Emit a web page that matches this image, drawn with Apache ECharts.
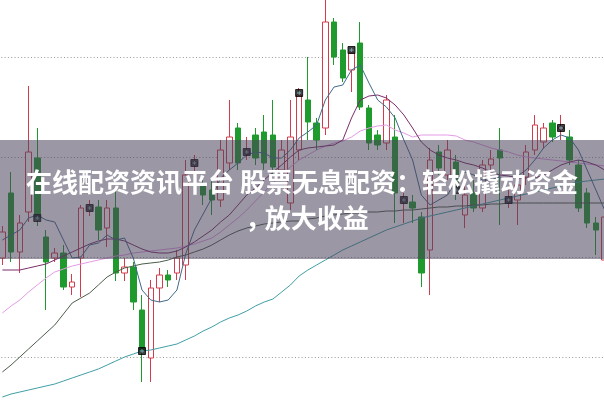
<!DOCTYPE html>
<html><head><meta charset="utf-8">
<script src="https://cdn.jsdelivr.net/npm/echarts@6/dist/echarts.min.js"></script>
<style>html,body{margin:0;padding:0;background:#fff}#c{width:604px;height:401px}</style>
</head><body><div id="c"></div>
<script>
const categories = Array.from({length: 70}, (_, i) => 'D' + (i + 1));
const openP  = [10.99,11.64,11.05,11.45,11.99,11.20,10.99,11.04,10.70,10.99, 11.48,11.50,11.29,11.49,10.84,10.90,10.47,9.99,10.69,10.82, 10.84,10.92,11.93,11.72,11.67,11.57,11.94,12.29,12.04,12.22, 12.25,12.22,11.87,11.54,12.07,12.57,12.34,12.29,13.35,13.07, 12.87,13.14,12.49,12.22,12.14,12.20,11.56,11.55,11.40,11.07, 12.05,11.82,11.95,11.42,11.64,11.49,11.92,12.07,11.56,11.57, 11.80,12.07,12.15,12.34,12.28,12.20,11.92,11.64,11.34,10.97];
const closeP = [11.25,11.05,11.34,12.05,11.39,10.95,11.04,10.70,10.75,11.49, 11.50,11.27,11.49,10.84,10.90,10.55,10.07,10.69,10.82,10.77, 10.99,11.82,11.95,11.62,11.57,12.07,12.20,11.94,12.06,11.99, 11.94,11.90,12.07,12.20,12.62,12.35,12.17,13.35,13.00,12.79, 13.04,12.50,12.14,12.12,12.57,11.64,11.58,11.49,10.84,11.97, 11.89,12.07,11.67,11.62,11.49,11.92,11.98,11.99,11.58,11.72, 12.05,12.32,12.29,12.20,12.30,11.97,11.49,11.34,11.27,11.40];
const lowP   = [10.92,10.95,10.84,11.35,11.31,10.47,10.95,10.67,10.62,10.60, 11.41,11.17,11.10,10.76,10.76,10.47,9.75,9.75,10.55,10.70, 10.77,10.77,11.82,11.52,11.42,11.50,11.87,11.87,11.97,11.92, 11.87,11.82,11.77,11.47,11.97,12.17,12.07,12.22,12.92,12.75, 12.65,12.47,12.07,12.07,12.07,11.34,11.34,11.34,10.70,10.62, 11.82,11.77,11.57,11.29,11.45,11.45,11.87,11.32,11.49,11.32, 11.72,12.02,12.09,12.15,12.17,11.92,11.45,11.29,11.02,10.92];
const highP  = [11.31,11.85,11.42,12.71,12.29,11.27,11.09,11.12,10.83,11.52, 11.57,11.57,11.57,11.67,10.99,10.95,10.62,10.77,10.89,10.87, 11.07,11.97,12.02,11.77,11.77,12.17,12.57,12.34,12.20,12.29, 12.42,12.57,12.17,12.57,12.69,13.00,12.39,13.62,13.39,13.14, 13.09,13.35,12.52,12.27,12.62,12.42,11.64,11.62,11.45,12.09, 12.12,12.17,12.02,11.72,11.77,11.97,12.07,12.29,11.69,11.82, 12.12,12.42,12.34,12.37,12.42,12.27,11.97,11.69,11.40,11.47];
const markerIdx = [4,10,16,22,28,34,40,46,52,58,64];
const markerVal = [11.39,11.49,10.06,11.94,12.05,12.64,13.07,11.57,11.67,11.57,12.29];
const ma5  = [11.17,11.22,11.27,11.39,11.42,11.37,11.35,11.17,10.99,11.00, 11.12,11.14,11.22,11.17,11.19,10.99,10.67,10.57,10.55,10.57, 10.67,11.03,11.27,11.43,11.59,11.79,11.87,11.94,12.02,12.05, 12.04,11.99,11.99,12.07,12.19,12.25,12.32,12.57,12.70,12.72, 12.87,12.92,12.74,12.57,12.50,12.39,12.17,11.97,11.62,11.52, 11.57,11.62,11.77,11.85,11.82,11.77,11.77,11.80,11.77,11.81, 11.87,11.97,12.09,12.17,12.22,12.19,12.07,11.87,11.67,11.47];
const ma10 = [10.87,10.87,10.87,10.89,10.91,10.93,10.97,11.01,11.05,11.09, 11.13,11.16,11.18,11.18,11.16,11.12,11.08,11.05,11.04,11.04, 11.06,11.10,11.15,11.21,11.27,11.35,11.42,11.52,11.62,11.69, 11.77,11.85,11.92,12.00,12.07,12.09,12.10,12.11,12.12,12.17, 12.39,12.57,12.61,12.62,12.59,12.52,12.42,12.29,12.15,12.07, 12.02,11.99,11.97,11.94,11.92,11.89,11.85,11.82,11.81,11.79, 11.79,11.79,11.82,11.87,11.92,11.95,11.97,11.95,11.92,11.87];
const ma20 = [10.44,10.51,10.57,10.65,10.72,10.79,10.85,10.88,10.91,10.93, 10.95,10.97,10.99,11.01,11.02,11.04,11.05,11.06,11.07,11.08, 11.09,11.11,11.13,11.16,11.19,11.25,11.32,11.39,11.47,11.56, 11.65,11.74,11.82,11.90,11.97,12.02,12.07,12.11,12.14,12.16, 12.20,12.26,12.29,12.31,12.32,12.27,12.24,12.20,12.22,12.22, 12.22,12.22,12.21,12.17,12.15,12.12,12.09,12.07,12.05,12.02, 12.00,11.99,11.98,11.97,11.96,11.95,11.94,11.93,11.92,11.91];
const ma30 = [9.85,9.92,10.00,10.08,10.16,10.24,10.32,10.43,10.54,10.59, 10.64,10.72,10.80,10.85,10.89,10.91,10.93,10.94,10.95,10.97, 11.00,11.02,11.05,11.08,11.12,11.17,11.22,11.26,11.29,11.31, 11.33,11.34,11.35,11.36,11.36,11.38,11.39,11.41,11.42,11.43, 11.44,11.44,11.45,11.45,11.46,11.46,11.47,11.47,11.48,11.49, 11.50,11.50,11.51,11.51,11.52,11.52,11.53,11.53,11.54,11.54, 11.54,11.54,11.54,11.54,11.54,11.54,11.54,11.54,11.54,11.54];
const ma60 = [9.60,9.63,9.65,9.67,9.69,9.71,9.73,9.76,9.79,9.82, 9.85,9.88,9.92,9.96,10.00,10.03,10.06,10.07,10.09,10.11, 10.13,10.17,10.21,10.26,10.30,10.35,10.39,10.42,10.46,10.51, 10.55,10.58,10.65,10.72,10.81,10.87,10.92,10.97,11.02,11.07, 11.11,11.15,11.19,11.23,11.27,11.30,11.33,11.36,11.39,11.41, 11.43,11.45,11.47,11.49,11.51,11.53,11.55,11.57,11.59,11.61, 11.63,11.65,11.67,11.69,11.71,11.73,11.75,11.76,11.77,11.78];
const bannerLine1 = '在线配资资讯平台 股票无息配资：轻松撬动资金';
const bannerLine2 = '，放大收益';

const kData = openP.map((o, i) => [o, closeP[i], lowP[i], highP[i]]);
const markers = markerIdx.map((k, j) => [k, markerVal[j]]);
const RED = '#d23c4c', GREEN = '#1e9b2c';
const FONT_FAMILY = '"Noto Sans CJK SC"';
function maLine(data, color) {
  return {type: 'line', data: data, symbol: 'none', silent: true,
    lineStyle: {color: color, width: 1}, z: 3};
}
const chart = echarts.init(document.getElementById('c'), null, {renderer: 'canvas'});
chart.setOption({
  animation: false,
  backgroundColor: '#fff',
  grid: {left: -2, right: -5, top: -43, bottom: -56, outerBoundsMode: 'none', containLabel: false},
  xAxis: {type: 'category', data: categories, boundaryGap: true,
    axisLine: {show: false}, axisTick: {show: false}, axisLabel: {show: false}, splitLine: {show: false}},
  yAxis: {type: 'value', min: 9, max: 14, interval: 1,
    axisLine: {show: false}, axisTick: {show: false}, axisLabel: {show: false},
    splitLine: {show: true, lineStyle: {color: '#999', width: 1, type: [1, 2.3]}}},
  series: [
    {type: 'candlestick', data: kData, barWidth: 6, z: 2,
      itemStyle: {color: '#ffffff', color0: GREEN, borderColor: RED, borderColor0: GREEN, borderWidth: 1}},
    maLine(ma60, '#3f9fa6'),
    maLine(ma30, '#4b5d4b'),
    maLine(ma20, '#e39be6'),
    maLine(ma10, '#7b2d6b'),
    maLine(ma5, '#3f6a8a'),
    {type: 'scatter', data: markers, symbol: 'rect', symbolSize: [7, 7], z: 4, silent: true,
      itemStyle: {color: '#111', borderColor: '#000', borderWidth: 1}},
    {type: 'scatter', data: markers, symbol: 'path://M2,0H3V5H2Z M0,2H5V3H0Z', symbolSize: [4, 4], z: 5, silent: true,
      itemStyle: {color: '#8fd3e6'}}
  ],
  graphic: [
    {type: 'rect', left: 0, top: 140, z: 100, silent: true,
      shape: {width: 604, height: 119}, style: {fill: 'rgba(72,66,90,0.55)'}},
    {type: 'text', x: 302, y: 182, z: 101, silent: true,
      style: {text: bannerLine1, fill: '#fff', font: 'bold 26px ' + FONT_FAMILY, align: 'center', verticalAlign: 'middle'}},
    {type: 'text', x: 307, y: 218, z: 101, silent: true,
      style: {
        text: '{c|' + bannerLine2.slice(0, 1) + '}{t|' + bannerLine2.slice(1) + '}',
        align: 'center', verticalAlign: 'middle', fill: '#fff',
        fontSize: 26, fontWeight: 'bold', fontFamily: FONT_FAMILY,
        rich: {
          c: {width: 19.5, align: 'left', fill: '#fff', fontSize: 26, fontWeight: 'bold', fontFamily: FONT_FAMILY},
          t: {fill: '#fff', fontSize: 26, fontWeight: 'bold', fontFamily: FONT_FAMILY}
        }
      }}
  ]
});
</script></body></html>
